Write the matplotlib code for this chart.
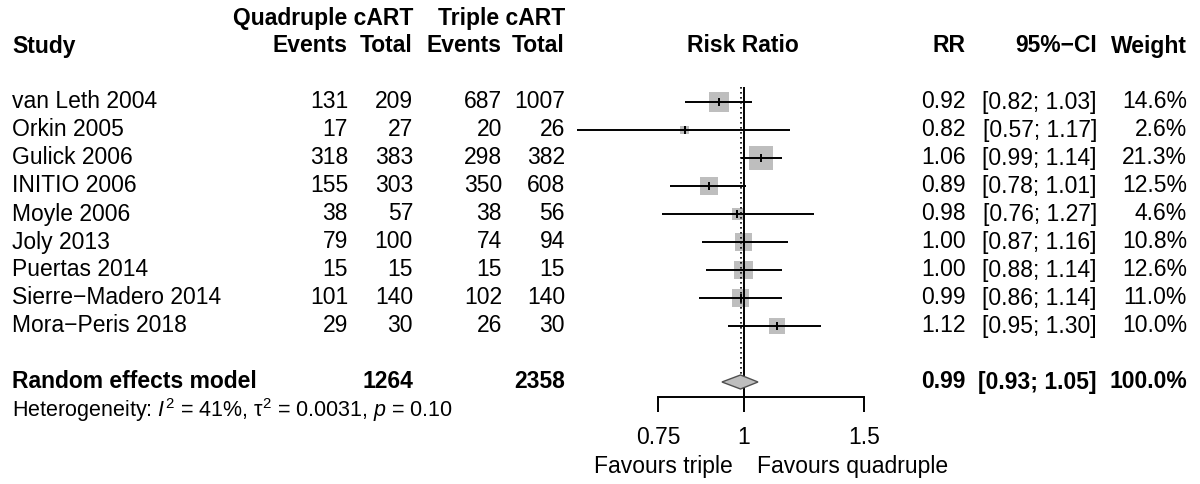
import numpy as np
import matplotlib
matplotlib.use("Agg")
import matplotlib.pyplot as plt

plt.rcParams['font.family'] = ['Liberation Sans', 'DejaVu Sans']
plt.rcParams['mathtext.fontset'] = 'custom'
plt.rcParams['mathtext.rm'] = 'Liberation Sans'
plt.rcParams['mathtext.it'] = 'Liberation Sans:italic'
plt.rcParams['mathtext.bf'] = 'Liberation Sans:bold'

studies = ["van Leth 2004", "Orkin 2005", "Gulick 2006", "INITIO 2006", "Moyle 2006",
           "Joly 2013", "Puertas 2014", "Sierre\u2212Madero 2014", "Mora\u2212Peris 2018"]
ev_q = [131, 17, 318, 155, 38, 79, 15, 101, 29]
tot_q = [209, 27, 383, 303, 57, 100, 15, 140, 30]
ev_t = [687, 20, 298, 350, 38, 74, 15, 102, 26]
tot_t = [1007, 26, 382, 608, 56, 94, 15, 140, 30]
rr = [0.92, 0.82, 1.06, 0.89, 0.98, 1.00, 1.00, 0.99, 1.12]
lo = [0.82, 0.57, 0.99, 0.78, 0.76, 0.87, 0.88, 0.86, 0.95]
hi = [1.03, 1.17, 1.14, 1.01, 1.27, 1.16, 1.14, 1.14, 1.30]
weight = [14.6, 2.6, 21.3, 12.5, 4.6, 10.8, 12.6, 11.0, 10.0]

pooled_rr, pooled_lo, pooled_hi = 0.99, 0.93, 1.05
pooled_tot_q, pooled_tot_t = 1264, 2358
het_text = "Heterogeneity: $I^2$ = 41%, \u03c4$^2$ = 0.0031, $p$ = 0.10"
ticks = [0.75, 1, 1.5]
tick_labels = ["0.75", "1", "1.5"]

W, H = 1200, 484
fig = plt.figure(figsize=(W / 100, H / 100), dpi=100)

# rows: 28 px each, row 0 at y=102 px
row_top = (0 - 102) / 28
row_bot = (H - 102) / 28

tx = fig.add_axes([0, 0, 1, 1])
tx.set_xlim(0, W)
tx.set_ylim(row_bot, row_top)
tx.axis('off')

FS = 16.5
gray = "#BEBEBE"

# column right edges (px)
c_evq, c_totq, c_evt, c_tott = 348, 413, 502, 565
c_rr, c_ci, c_w = 966, 1097, 1187

# headers
tx.text(c_totq, -3, "Quadruple cART", ha='right', va='center', fontsize=FS, fontweight='bold')
tx.text(c_tott, -3, "Triple cART", ha='right', va='center', fontsize=FS, fontweight='bold')
tx.text(12, -2, "Study", ha='left', va='center', fontsize=FS, fontweight='bold')
for xr, s in [(c_evq, "Events"), (c_totq, "Total"), (c_evt, "Events"), (c_tott, "Total")]:
    tx.text(xr, -2, s, ha='right', va='center', fontsize=FS, fontweight='bold')
tx.text(743, -2, "Risk Ratio", ha='center', va='center', fontsize=FS, fontweight='bold')
tx.text(c_rr, -2, "RR", ha='right', va='center', fontsize=FS, fontweight='bold')
tx.text(c_ci, -2, "95%\u2212CI", ha='right', va='center', fontsize=FS, fontweight='bold')
tx.text(c_w, -2, "Weight", ha='right', va='center', fontsize=FS, fontweight='bold')

for i, name in enumerate(studies):
    tx.text(12, i, name, ha='left', va='center', fontsize=FS)
    tx.text(c_evq, i, str(ev_q[i]), ha='right', va='center', fontsize=FS)
    tx.text(c_totq, i, str(tot_q[i]), ha='right', va='center', fontsize=FS)
    tx.text(c_evt, i, str(ev_t[i]), ha='right', va='center', fontsize=FS)
    tx.text(c_tott, i, str(tot_t[i]), ha='right', va='center', fontsize=FS)
    tx.text(c_rr, i, f"{rr[i]:.2f}", ha='right', va='center', fontsize=FS)
    tx.text(c_ci, i, f"[{lo[i]:.2f}; {hi[i]:.2f}]", ha='right', va='center', fontsize=FS)
    tx.text(c_w, i, f"{weight[i]:.1f}%", ha='right', va='center', fontsize=FS)

pr = len(studies) + 1
tx.text(12, pr, "Random effects model", ha='left', va='center', fontsize=FS, fontweight='bold')
tx.text(c_totq, pr, str(pooled_tot_q), ha='right', va='center', fontsize=FS, fontweight='bold')
tx.text(c_tott, pr, str(pooled_tot_t), ha='right', va='center', fontsize=FS, fontweight='bold')
tx.text(c_rr, pr, f"{pooled_rr:.2f}", ha='right', va='center', fontsize=FS, fontweight='bold')
tx.text(c_ci, pr, f"[{pooled_lo:.2f}; {pooled_hi:.2f}]", ha='right', va='center', fontsize=FS, fontweight='bold')
tx.text(c_w, pr, "100.0%", ha='right', va='center', fontsize=FS, fontweight='bold')
tx.text(12, pr + 1, het_text, ha='left', va='center', fontsize=FS - 1.0)

# forest axes (log scale)
x0px, x1px = 570, 880
one_px, scale = 743.5, 297.0
fx = fig.add_axes([x0px / W, 0, (x1px - x0px) / W, 1])
fx.set_xscale('log')
fx.set_xlim(np.exp((x0px - one_px) / scale), np.exp((x1px - one_px) / scale))
fx.set_ylim(row_bot, row_top)
fx.axis('off')

yrows = np.arange(len(studies))
axis_row = (397 - 102) / 28
tick_row = (412 - 102) / 28
top_row = (87 - 102) / 28

# reference line at 1
fx.plot([1, 1], [top_row, axis_row], color='black', lw=1.4, solid_capstyle='butt', zorder=3)
# pooled dotted line
fx.plot([pooled_rr, pooled_rr], [top_row, pr - 0.25], color='black', lw=1.2,
        linestyle=(0, (1, 2)), zorder=3)

# squares
side_max = 24 * 0.72
sizes = [side_max ** 2 * w / 21.3 for w in weight]
fx.scatter(rr, yrows, s=sizes, marker='s', color=gray, edgecolors='none', zorder=2)
# CI lines
fx.hlines(yrows, lo, hi, color='black', lw=1.4, zorder=4)
# point tick
fx.vlines(rr, yrows - 0.14, yrows + 0.14, color='black', lw=1.4, zorder=5)

# diamond
dh = 0.25
fx.fill([pooled_lo, pooled_rr, pooled_hi, pooled_rr],
        [pr, pr - dh, pr, pr + dh], facecolor=gray, edgecolor='#505050', lw=1.0, zorder=5)

# bottom axis
fx.plot([ticks[0], ticks[-1]], [axis_row, axis_row], color='black', lw=1.4, solid_capstyle='projecting')
for t, lab in zip(ticks, tick_labels):
    fx.plot([t, t], [axis_row, tick_row], color='black', lw=1.4, solid_capstyle='butt')
    fx.text(t, 12, lab, ha='center', va='center', fontsize=FS)

tx.text(733, 13, "Favours triple", ha='right', va='center', fontsize=FS)
tx.text(757, 13, "Favours quadruple", ha='left', va='center', fontsize=FS)

fig.savefig("out.png", dpi=100)
